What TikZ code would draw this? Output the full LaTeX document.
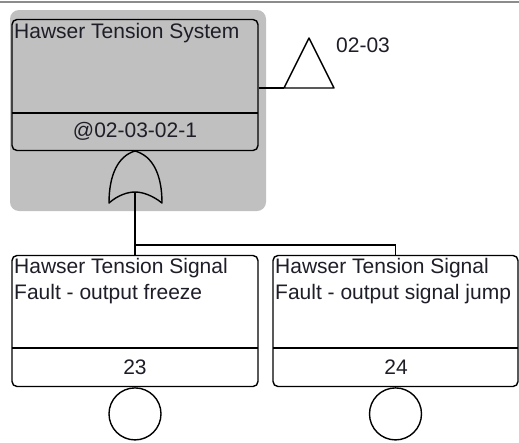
\documentclass[tikz,border=0pt]{standalone}
\usepackage{fontspec}
\setmainfont{Liberation Sans}
\definecolor{bgray}{RGB}{192,192,192}
\definecolor{lgray}{RGB}{140,140,140}
\definecolor{txt}{RGB}{30,30,40}
\tikzset{
  evbox/.style={draw=black, line width=1.4pt, rounded corners=5pt, minimum width=246pt, minimum height=131pt, inner sep=0pt},
  wire/.style={draw=black, line width=1.4pt},
  lbl/.style={inner sep=0pt, text=txt, font=\fontsize{21}{26}\selectfont},
  basic/.style={draw=black, line width=1.4pt, circle, minimum size=52pt, inner sep=0pt}
}
\begin{document}
\begin{tikzpicture}[x=1pt,y=-1pt]
\useasboundingbox (0,0) rectangle (519,442);
\fill[white] (0,0) rectangle (519,442);
\draw[lgray, line width=1.4pt] (0,2) -- (519,2);
% gray selection background
\fill[bgray, rounded corners=9pt] (10,10) rectangle (266,211);
% top event
\node[evbox] (top) at (135,85) {};
\draw[wire] (12,113) -- (258,113);
\node[lbl, anchor=north west] (toptxt) at (14,23) {Hawser Tension System};
\node[lbl] (topid) at (135,131) {@02-03-02-1};
% transfer triangle
\coordinate (trL) at (284,88);
\coordinate (trR) at (334,88);
\coordinate (trA) at (309,38);
\draw[wire] (top.east |- trL) -- (trL);
\draw[wire, line join=round] (trL) -- (trR) -- (trA) -- cycle;
\node[lbl, anchor=west] (trtxt) at (336,45) {02-03};
% OR gate
\coordinate (gtop) at (135,151);
\coordinate (gbot) at (135,192);
\draw[wire, line join=round] (gtop) .. controls (118,156) and (109,175) .. (109,203)
  .. controls (118,195) and (128,192) .. (gbot)
  .. controls (142,192) and (152,195) .. (162,203)
  .. controls (162,175) and (153,156) .. (gtop) -- cycle;
% basic events
\node[evbox] (e1) at (135,321) {};
\node[evbox, minimum width=245pt] (e2) at (395.5,321) {};
\draw[wire] (12,348) -- (258,348);
\draw[wire] (273,348) -- (518,348);
\node[lbl, anchor=north west, align=left] (e1txt) at (14,258) {Hawser Tension Signal\\Fault - output freeze};
\node[lbl, anchor=north west, align=left] (e2txt) at (275,258) {Hawser Tension Signal\\Fault - output signal jump};
\node[lbl] (e1id) at (135,367) {23};
\node[lbl] (e2id) at (396,367) {24};
\coordinate (split) at (135,245);
\draw[wire] (gbot) -- (split) -- (e2.north |- split) -- (e2.north);
\draw[wire] (split) -- (e1.north);
\node[basic, anchor=north] (c1) at (e1.south) {};
\node[basic, anchor=north] (c2) at (e2.south) {};
\end{tikzpicture}
\end{document}
